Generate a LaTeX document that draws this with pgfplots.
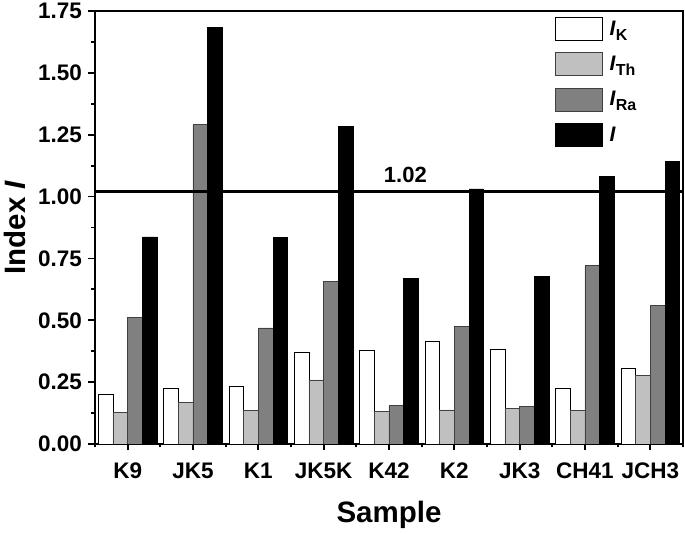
\documentclass[border=0pt]{standalone}
\usepackage{pgfplots}
\pgfplotsset{compat=1.18}
\usepackage{fontspec}
\setmainfont{Liberation Sans}
\definecolor{lgray}{RGB}{192,192,192}
\definecolor{dgray}{RGB}{128,128,128}
\newcommand{\sub}[1]{\raisebox{-5pt}{\fontsize{16}{16}\selectfont #1}}
\begin{document}
\begin{tikzpicture}
\begin{axis}[
  scale only axis,
  width=588pt, height=433pt,
  at={(0,0)}, anchor=south west,
  xmin=-0.5, xmax=8.5,
  ymin=0, ymax=1.75,
  ybar=0pt,
  bar width=0.225,
  xtick={0,...,8},
  xticklabels={K9,JK5,K1,JK5K,K42,K2,JK3,CH41,JCH3},
  minor xtick={-0.5,0.5,...,8.5},
  ytick={0,0.25,...,1.75},
  minor ytick={0.125,0.375,...,1.625},
  tick align=outside,
  tick pos=left,
  major tick length=6.5pt,
  minor tick length=3.5pt,
  every tick/.style={black, line width=1.8pt},
  axis line style={line width=2pt},
  /pgf/number format/.cd, fixed, fixed zerofill, precision=2, assume math mode=true,
  /pgfplots/.cd,
  ticklabel style={font=\fontsize{22.5}{25}\selectfont\bfseries},
  xticklabel style={yshift=-9pt},
  yticklabel style={xshift=-3pt},
  every axis y label/.style={at={(axis description cs:-0.136,0.5)}, rotate=90, anchor=center, font=\fontsize{29.5}{32}\selectfont\bfseries},
  every axis x label/.style={at={(axis description cs:0.5,-0.164)}, anchor=center, font=\fontsize{29.5}{32}\selectfont\bfseries},
  ylabel={Index \textit{I}},
  xlabel={Sample},
  legend style={at={(axis description cs:0.782,0.986)}, anchor=north west, draw=none, fill=none,
    font=\fontsize{21}{24}\selectfont\bfseries, row sep=11.5pt, inner sep=0pt,
    /tikz/every odd column/.append style={column sep=5pt}},
  legend cell align=left,
  legbox/.style={legend image code/.code={\draw[##1] (0pt,-11.5pt) rectangle (47pt,11.5pt);}},
]
\addplot[fill=white, draw=black, line width=0.7pt, bar shift=-0.3375, legbox] coordinates {
(0,0.200) (1,0.224) (2,0.231) (3,0.369) (4,0.380) (5,0.416) (6,0.382) (7,0.226) (8,0.305)};
\addplot[fill=lgray, draw=black!75, line width=0.7pt, bar shift=-0.1125, legbox] coordinates {
(0,0.126) (1,0.168) (2,0.135) (3,0.259) (4,0.132) (5,0.138) (6,0.143) (7,0.135) (8,0.277)};
\addplot[fill=dgray, draw=black!75, line width=0.7pt, bar shift=0.1125, legbox] coordinates {
(0,0.511) (1,1.292) (2,0.469) (3,0.657) (4,0.155) (5,0.476) (6,0.153) (7,0.720) (8,0.559)};
\addplot[fill=black, draw=black, line width=0.7pt, bar shift=0.3375, legbox] coordinates {
(0,0.837) (1,1.682) (2,0.835) (3,1.284) (4,0.669) (5,1.031) (6,0.677) (7,1.080) (8,1.141)};
\legend{\textit{I}\sub{K},\textit{I}\sub{Th},\textit{I}\sub{Ra},\textit{I}}
\addplot[sharp plot, black, line width=2.3pt, forget plot] coordinates {(-0.5,1.02) (8.5,1.02)};
\node[font=\fontsize{22}{24}\selectfont\bfseries] at (axis cs:4.25,1.087) {1.02};
\end{axis}
\pgfresetboundingbox
\path[use as bounding box] (-95pt,-90pt) rectangle (590pt,444pt);
\end{tikzpicture}
\end{document}
